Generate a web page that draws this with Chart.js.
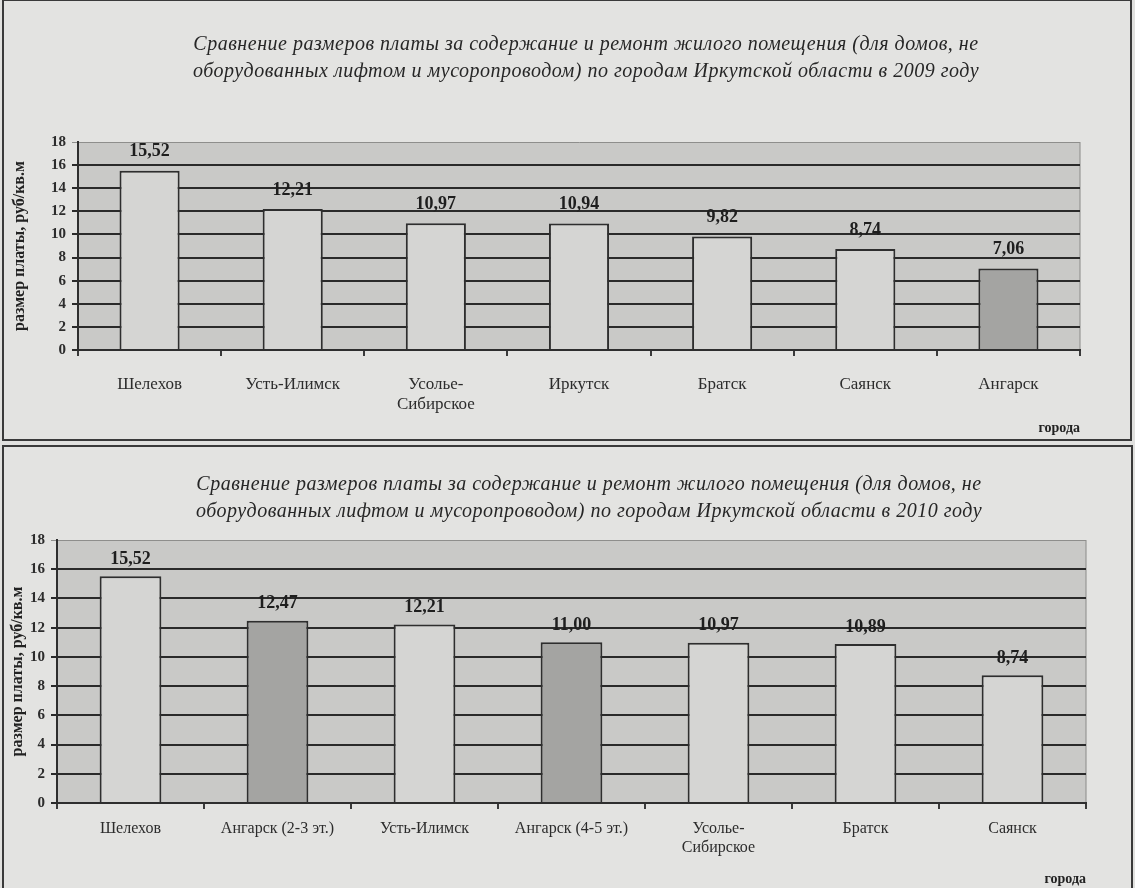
<!DOCTYPE html>
<html>
<head>
<meta charset="utf-8">
<script src="https://cdn.jsdelivr.net/npm/chart.js@4"></script>
<style>
  body { margin: 0; background: #e1e1df; width: 1135px; height: 888px; overflow: hidden; position: relative; }
  .box { position: absolute; border: 2px solid #3a3a3a; background: #e3e3e1; }
  #box1 { left: 2px; top: -1px; width: 1126px; height: 438px; }
  #box2 { left: 2px; top: 445px; width: 1127px; height: 445px; }
  canvas { display: block; }
</style>
</head>
<body>
<div class="box" id="box1"><canvas id="chart2009" width="1126" height="438"></canvas></div>
<div class="box" id="box2"><canvas id="chart2010" width="1127" height="445"></canvas></div>
<script>
const cities2009 = ['Шелехов', 'Усть-Илимск', ['Усолье-', 'Сибирское'], 'Иркутск', 'Братск', 'Саянск', 'Ангарск'];
const fee2009 = [15.52, 12.21, 10.97, 10.94, 9.82, 8.74, 7.06];
const title2009 = [
    'Сравнение размеров платы за содержание и ремонт жилого помещения (для домов, не',
    'оборудованных лифтом и мусоропроводом) по городам Иркутской области в 2009 году'
];

const cities2010 = ['Шелехов', 'Ангарск (2-3 эт.)', 'Усть-Илимск', 'Ангарск (4-5 эт.)', ['Усолье-', 'Сибирское'], 'Братск', 'Саянск'];
const fee2010 = [15.52, 12.47, 12.21, 11.00, 10.97, 10.89, 8.74];
const title2010 = [
    'Сравнение размеров платы за содержание и ремонт жилого помещения (для домов, не',
    'оборудованных лифтом и мусоропроводом) по городам Иркутской области в 2010 году'
];

const yAxisTitle = 'размер платы, руб/кв.м';
const xAxisTitle = 'города';

const serif = "'Liberation Serif', 'DejaVu Serif', serif";
const lightBar = '#d5d5d3';
const darkBar = '#a4a4a2';

// plot area fill
const plotBg = {
    id: 'plotBg',
    beforeDraw(chart) {
        const a = chart.chartArea;
        const ctx = chart.ctx;
        ctx.save();
        ctx.fillStyle = '#c9c9c7';
        ctx.fillRect(a.left, a.top, a.right - a.left, a.bottom - a.top);
        ctx.strokeStyle = '#8a8a88';
        ctx.lineWidth = 1;
        ctx.beginPath();
        ctx.moveTo(a.right, a.top);
        ctx.lineTo(a.right, a.bottom);
        ctx.stroke();
        ctx.restore();
    }
};

// two-line italic heading, placed over the plot
const heading = {
    id: 'heading',
    afterDraw(chart) {
        const h = chart.options.heading;
        const ctx = chart.ctx;
        ctx.save();
        ctx.font = 'italic 20px ' + serif;
        ctx.letterSpacing = '0.5px';
        ctx.fillStyle = '#262626';
        ctx.textAlign = 'center';
        ctx.textBaseline = 'middle';
        h.lines.forEach((line, i) => {
            ctx.fillText(line, h.x, h.y + i * 27);
        });
        ctx.restore();
    }
};

// values above bars, comma as decimal separator
const valueLabels = {
    id: 'valueLabels',
    afterDatasetsDraw(chart) {
        const ctx = chart.ctx;
        const meta = chart.getDatasetMeta(0);
        const values = chart.data.datasets[0].data;
        ctx.save();
        ctx.font = 'bold 18px ' + serif;
        ctx.fillStyle = '#1e1e1e';
        ctx.textAlign = 'center';
        ctx.textBaseline = 'middle';
        meta.data.forEach((bar, i) => {
            ctx.fillText(values[i].toFixed(2).replace('.', ','), bar.x, bar.y - chart.options.labelGap);
        });
        ctx.restore();
    }
};

function makeChart(id, labels, values, title, geo) {
    const colors = labels.map(l => (String(l).indexOf('Ангарск') === 0 ? darkBar : lightBar));
    return new Chart(document.getElementById(id), {
        type: 'bar',
        data: {
            labels: labels,
            datasets: [{
                data: values,
                backgroundColor: colors,
                borderColor: '#2e2e2e',
                borderWidth: 2,
                borderSkipped: 'bottom',
                barPercentage: 0.42,
                categoryPercentage: 1
            }]
        },
        options: {
            responsive: false,
            animation: false,
            labelGap: geo.labelGap,
            heading: { lines: title, x: geo.headX, y: geo.headY },
            layout: { padding: geo.padding },
            plugins: {
                legend: { display: false },
                tooltip: { enabled: false },
                title: { display: false }
            },
            scales: {
                x: {
                    grid: { offset: true, drawOnChartArea: false, color: '#3a3a3a', lineWidth: 2, tickLength: 6 },
                    border: { color: '#2e2e2e', width: 2 },
                    ticks: {
                        color: '#2c2c2c',
                        font: { family: serif, size: geo.xFont },
                        padding: geo.xTickPad,
                        maxRotation: 0,
                        autoSkip: false
                    },
                    title: {
                        display: true,
                        text: xAxisTitle,
                        align: 'end',
                        color: '#222',
                        font: { family: serif, size: 14, weight: 'bold' },
                        padding: { top: 0, bottom: 0 }
                    },
                    afterFit: s => { s.height = geo.xHeight; }
                },
                y: {
                    min: 0,
                    max: 18,
                    grid: {
                        color: c => (c.tick && c.tick.value === 18 ? '#8e8e8c' : '#2a2a2a'),
                        lineWidth: c => (c.tick && c.tick.value === 18 ? 1 : 2),
                        tickLength: 6
                    },
                    border: { color: '#2e2e2e', width: 2 },
                    ticks: {
                        stepSize: 2,
                        color: '#2c2c2c',
                        font: { family: serif, size: 15, weight: 'bold' },
                        padding: 6
                    },
                    title: {
                        display: true,
                        text: yAxisTitle,
                        color: '#222',
                        font: { family: serif, size: 16, weight: 'bold' },
                        padding: { top: 0, bottom: 0 }
                    },
                    afterFit: s => { s.width = geo.yWidth; }
                }
            }
        },
        plugins: [plotBg, valueLabels, heading]
    });
}

makeChart('chart2009', cities2009, fee2009, title2009, {
    padding: { left: 6, right: 50, top: 141, bottom: 2 },
    headX: 582, headY: 44,
    xHeight: 87,
    xTickPad: 18,
    xFont: 17,
    yWidth: 68,
    labelGap: 19
});

makeChart('chart2010', cities2010, fee2010, title2010, {
    padding: { left: 4, right: 45, top: 93, bottom: 4 },
    headX: 585, headY: 38,
    xHeight: 85,
    xTickPad: 10,
    xFont: 16,
    yWidth: 49,
    labelGap: 17
});
</script>
</body>
</html>
